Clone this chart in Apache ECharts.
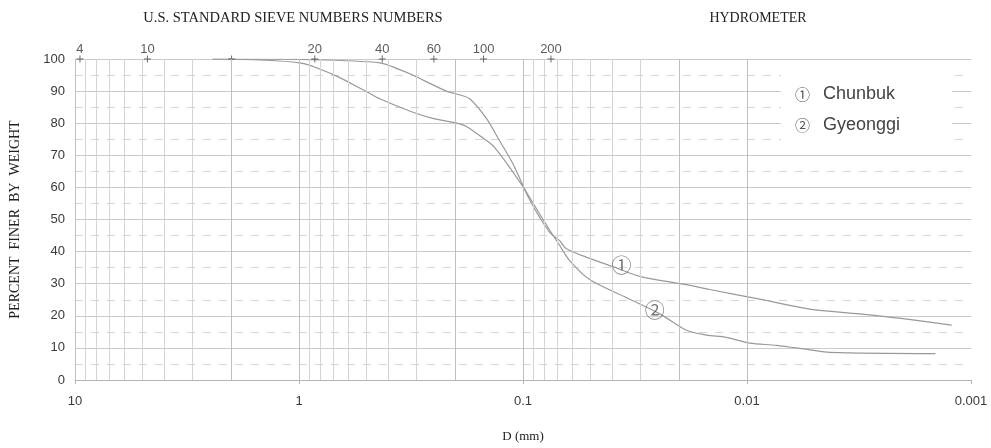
<!DOCTYPE html>
<html>
<head>
<meta charset="utf-8">
<script src="https://cdn.jsdelivr.net/npm/echarts@6/dist/echarts.min.js"></script>
<style>
html,body{margin:0;padding:0;background:#fff;}
#chart{width:991px;height:448px;}
</style>
</head>
<body>
<div id="chart"></div>
<script>
// ---- data ----
const chunbukD = [2.43, 0.896, 0.436, 0.355, 0.311, 0.22, 0.198, 0.173, 0.1457, 0.1294, 0.1108, 0.0933, 0.076, 0.0686, 0.064, 0.0504, 0.0396, 0.0301, 0.01865, 0.01467, 0.00878, 0.00525, 0.00314, 0.00201, 0.00122];
const chunbukP = [100, 99.8, 98.8, 96.7, 95, 90, 89.1, 87.6, 81.5, 75.4, 67.3, 56.1, 46, 43.4, 40.9, 37.9, 35.3, 32.3, 29.7, 28.2, 25.2, 22.1, 20.6, 19.1, 17.1];
const gyeonggiD = [2.43, 0.993, 0.707, 0.4985, 0.436, 0.31, 0.253, 0.198, 0.179, 0.151, 0.1337, 0.1, 0.0814, 0.0686, 0.0619, 0.0504, 0.0346, 0.0245, 0.01865, 0.01518, 0.01236, 0.00973, 0.00739, 0.00525, 0.00427, 0.00144];
const gyeonggiP = [100, 98.8, 95.2, 89.8, 87.6, 83.4, 81.5, 80, 79, 75.4, 72.4, 60.2, 50, 41.9, 37.2, 31.3, 25.7, 20.6, 15.5, 14, 13.3, 11.5, 10.8, 9.4, 8.6, 8.2];
const seriesNames = ['Chunbuk', 'Gyeonggi'];
const seriesMarks = ['\u2460', '\u2461'];
const curveLabelPos = [[0.0363, 35.6], [0.0258, 21.6]];
const sieveD = [9.5, 4.75, 2.0, 0.85, 0.425, 0.25, 0.15, 0.075];
const sieveLabels = ['4', '10', '', '20', '40', '60', '100', '200'];
const xTickLabels = ['10', '1', '0.1', '0.01', '0.001'];
const titleSieve = 'U.S. STANDARD SIEVE NUMBERS NUMBERS';
const titleHydro = 'HYDROMETER';
const xName = 'D (mm)';
const yName = 'PERCENT  FINER  BY  WEIGHT';

// log-cycle grid lines (axis structure)
const vLines = [];
for (let e = -3; e <= 0; e++) {
  for (let m = 1; m <= 9; m++) {
    vLines.push({ v: parseFloat((m * Math.pow(10, e)).toPrecision(3)), strong: m === 1 || m === 2 });
  }
}
vLines.push({ v: 10, strong: true });

const chart = echarts.init(document.getElementById('chart'), null, { renderer: 'canvas' });
const serifFont = '"Liberation Serif", "DejaVu Serif", serif';
const sansFont = '"Liberation Sans", Arial, sans-serif';

const option = {
  backgroundColor: '#fff',
  animation: false,
  grid: { left: 75, right: 20, top: 59, bottom: 60 },
  legend: {
    data: seriesNames,
    orient: 'vertical',
    left: 781,
    top: 73,
    icon: 'none',
    itemWidth: 0,
    itemHeight: 20,
    itemGap: 12,
    padding: [11, 52, 7, 9],
    backgroundColor: '#fff',
    selectedMode: false,
    formatter: function (name) {
      return '{c|' + seriesMarks[seriesNames.indexOf(name)] + '}{t|' + name + '}';
    },
    textStyle: {
      color: '#444',
      rich: {
        c: { fontSize: 15, fontFamily: '"Noto Sans CJK KR", sans-serif', color: '#555', width: 28 },
        t: { fontSize: 18, fontFamily: sansFont, color: '#444' }
      }
    },
    z: 10
  },
  xAxis: {
    type: 'log',
    logBase: 10,
    inverse: true,
    min: 0.001,
    max: 10,
    name: xName,
    nameLocation: 'middle',
    nameGap: 50,
    nameTextStyle: { fontFamily: serifFont, fontSize: 13, color: '#222' },
    axisLine: { show: true, lineStyle: { color: '#b5b5b5', width: 1 } },
    axisTick: { show: true, length: 4, lineStyle: { color: '#b5b5b5' } },
    axisLabel: {
      margin: 15,
      fontFamily: sansFont,
      fontSize: 13,
      color: '#3a3a3a',
      formatter: function (v) {
        const e = Math.round(Math.log10(v));
        return xTickLabels[1 - e];
      }
    },
    splitLine: { show: false }
  },
  yAxis: {
    type: 'value',
    min: 0,
    max: 100,
    interval: 10,
    name: yName,
    nameLocation: 'middle',
    nameGap: 53,
    nameRotate: 90,
    nameTextStyle: { fontFamily: serifFont, fontSize: 14, color: '#222' },
    axisLine: { show: false },
    axisTick: { show: false },
    axisLabel: { margin: 10, fontFamily: sansFont, fontSize: 13, color: '#3a3a3a' },
    splitLine: { show: true, lineStyle: { color: '#cbcbcb', width: 1 } },
    minorTick: { show: false, splitNumber: 2 },
    minorSplitLine: { show: true, lineStyle: { color: '#d4d4d4', type: [8, 8], width: 1 } }
  },
  graphic: [
    { type: 'text', x: 293, y: 18, style: { text: titleSieve, font: '14.5px ' + serifFont, fill: '#222', textAlign: 'center', textVerticalAlign: 'middle' } },
    { type: 'text', x: 758, y: 18, style: { text: titleHydro, font: '14px ' + serifFont, fill: '#222', textAlign: 'center', textVerticalAlign: 'middle' } }
  ],
  series: [
    {
      name: 'grid-lines',
      type: 'line',
      data: [],
      z: 1,
      silent: true,
      markLine: {
        silent: true,
        symbol: 'none',
        label: { show: false },
        animation: false,
        data: vLines.map(function (g) {
          return { xAxis: g.v, lineStyle: { color: g.strong ? '#bfbfbf' : '#d4d4d4', width: 1, type: 'solid' } };
        })
      }
    },
    {
      name: seriesNames[0],
      type: 'line',
      smooth: 0.3,
      showSymbol: false,
      symbol: 'none',
      z: 3,
      lineStyle: { color: '#999', width: 1.2 },
      itemStyle: { color: '#999' },
      data: chunbukD.map(function (d, i) { return [d, chunbukP[i]]; })
    },
    {
      name: seriesNames[1],
      type: 'line',
      smooth: 0.3,
      showSymbol: false,
      symbol: 'none',
      z: 3,
      lineStyle: { color: '#999', width: 1.2 },
      itemStyle: { color: '#999' },
      data: gyeonggiD.map(function (d, i) { return [d, gyeonggiP[i]]; })
    },
    {
      name: 'sieves',
      type: 'scatter',
      z: 4,
      silent: true,
      symbol: 'path://M0,4.3H10V5.7H0Z M4.3,0H5.7V10H4.3Z',
      symbolSize: 7,
      itemStyle: { color: '#444' },
      label: {
        show: true,
        position: 'top',
        distance: 0,
        fontFamily: sansFont,
        fontSize: 13,
        color: '#333',
        formatter: function (p) { return sieveLabels[p.dataIndex]; }
      },
      data: sieveD.map(function (d) { return [d, 100]; })
    },
    {
      name: 'curve-labels',
      type: 'scatter',
      z: 5,
      silent: true,
      symbolSize: 0,
      label: {
        show: true,
        position: 'inside',
        fontFamily: '"Noto Sans CJK KR", sans-serif',
        fontSize: 20,
        color: '#555',
        formatter: function (p) { return seriesMarks[p.dataIndex]; }
      },
      data: curveLabelPos
    }
  ]
};
chart.setOption(option);
</script>
</body>
</html>
